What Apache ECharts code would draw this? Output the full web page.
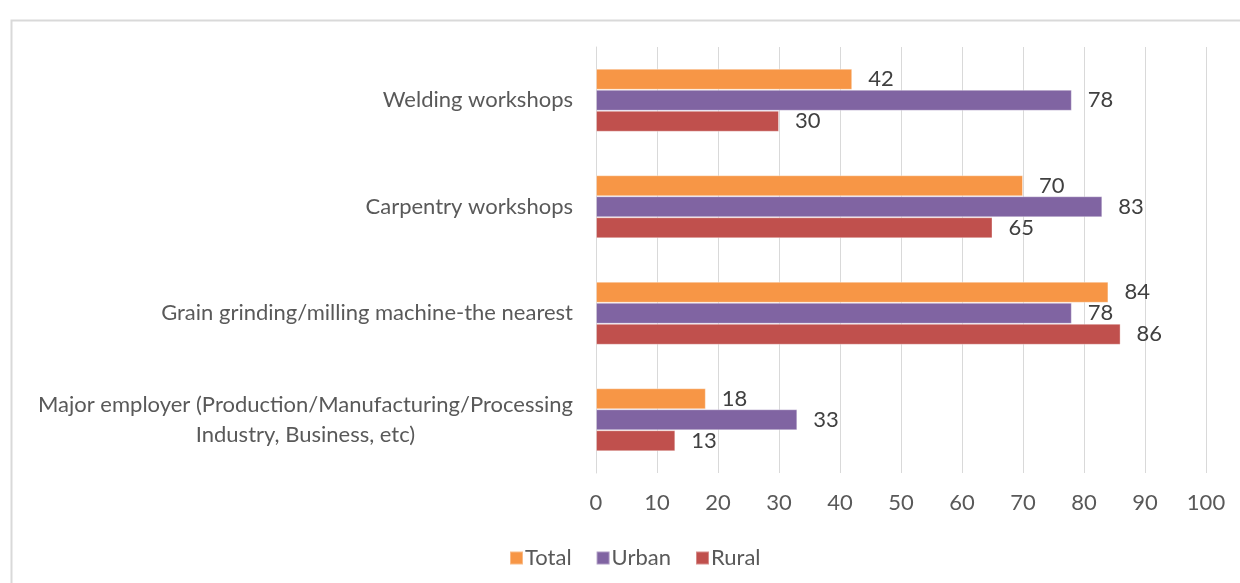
<!DOCTYPE html>
<html>
<head>
<meta charset="utf-8">
<script src="https://cdn.jsdelivr.net/npm/echarts@6/dist/echarts.min.js"></script>
<style>
html,body{margin:0;padding:0;background:#fff;}
#chart{width:1240px;height:583px;}
</style>
</head>
<body>
<div id="chart"></div>
<script>
const categories = [
  'Welding workshops',
  'Carpentry workshops',
  'Grain grinding/milling machine-the nearest',
  'Major employer (Production/Manufacturing/Processing\nIndustry, Business, etc)'
];
const seriesNames = ['Total', 'Urban', 'Rural'];
const totalValues = [42, 70, 84, 18];
const urbanValues = [78, 83, 78, 33];
const ruralValues = [30, 65, 86, 13];
const xTicks = [0, 10, 20, 30, 40, 50, 60, 70, 80, 90, 100];

const colors = ['#F79646', '#8064A2', '#C0504D'];
const FONT = 'Lato';
const FS = 22;

const chart = echarts.init(document.getElementById('chart'), null, {renderer: 'canvas'});

function makeSeries(name, data, color) {
  return {
    name: name,
    type: 'bar',
    data: data,
    barWidth: 21,
    barGap: '0%',
    itemStyle: {color: color, borderColor: 'rgba(255,255,255,0.35)', borderWidth: 1},
    label: {
      show: true,
      position: 'right',
      distance: 16,
      color: '#404040',
      fontFamily: FONT,
      fontSize: FS
    },
    emphasis: {disabled: true}
  };
}

chart.setOption({
  animation: false,
  backgroundColor: '#fff',
  graphic: [{
    type: 'rect',
    left: 9, top: 18,
    shape: {width: 1260, height: 620},
    style: {fill: 'none', stroke: '#d9d9d9', lineWidth: 2},
    silent: true,
    z: -10
  }],
  grid: {left: 596, right: 34, top: 47, bottom: 110, containLabel: false},
  legend: {
    data: seriesNames,
    bottom: 9,
    left: 504,
    itemWidth: 13,
    itemHeight: 13,
    itemGap: 24,
    icon: 'rect',
    textStyle: {color: '#595959', fontFamily: FONT, fontSize: FS, padding: [0, 0, 0, -3]}
  },
  xAxis: {
    type: 'value',
    min: xTicks[0],
    max: xTicks[xTicks.length - 1],
    interval: 10,
    axisLine: {show: false},
    axisTick: {show: false},
    splitLine: {show: true, lineStyle: {color: '#d9d9d9', width: 1}},
    axisLabel: {color: '#595959', fontFamily: FONT, fontSize: FS, margin: 19}
  },
  yAxis: {
    type: 'category',
    data: categories,
    inverse: true,
    axisLine: {show: true, lineStyle: {color: '#d9d9d9', width: 1}},
    axisTick: {show: false},
    axisLabel: {
      color: '#595959',
      fontFamily: FONT,
      fontSize: FS,
      margin: 23,
      lineHeight: 30,
      formatter: function (v) {
        return v.split('\n').map(function (s) { return '{c|' + s + '}'; }).join('\n');
      },
      rich: {c: {align: 'center', color: '#595959', fontFamily: FONT, fontSize: FS, lineHeight: 30}}
    }
  },
  series: [
    makeSeries(seriesNames[0], totalValues, colors[0]),
    makeSeries(seriesNames[1], urbanValues, colors[1]),
    makeSeries(seriesNames[2], ruralValues, colors[2])
  ]
});
</script>
</body>
</html>
